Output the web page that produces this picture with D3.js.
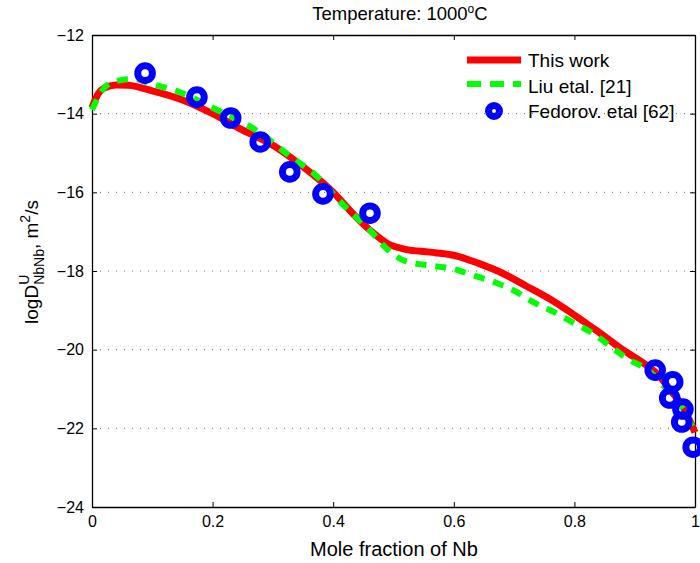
<!DOCTYPE html>
<html>
<head>
<meta charset="utf-8">
<script src="https://cdn.jsdelivr.net/npm/d3@7"></script>
<style>
  body { margin: 0; background: #fff; }
  svg { font-family: "Liberation Sans", Arial, Helvetica, sans-serif; }
</style>
</head>
<body>
<svg id="chart" width="700" height="563"></svg>
<script>
'use strict';

// data
var thisWork = [[0,-13.85],[0.01,-13.5],[0.02,-13.35],[0.04,-13.27],[0.06,-13.28],[0.1,-13.42],
  [0.15,-13.65],[0.2,-14.0],[0.25,-14.42],[0.3,-14.8],[0.35,-15.35],[0.4,-16.0],[0.43,-16.5],
  [0.46,-16.95],[0.49,-17.3],[0.52,-17.45],[0.56,-17.52],[0.6,-17.6],[0.64,-17.8],[0.68,-18.05],
  [0.72,-18.38],[0.76,-18.72],[0.8,-19.12],[0.84,-19.55],[0.88,-20.0],[0.92,-20.4],[0.94,-20.65],
  [0.96,-21.05],[0.98,-21.45],[1.0,-22.1]];

var liu = [[0,-13.9],[0.02,-13.35],[0.04,-13.17],[0.07,-13.12],[0.1,-13.25],[0.14,-13.42],
  [0.2,-13.85],[0.27,-14.4],[0.33,-15.1],[0.37,-15.55],[0.42,-16.37],[0.46,-16.95],[0.49,-17.45],
  [0.52,-17.75],[0.56,-17.86],[0.6,-17.95],[0.63,-18.1],[0.67,-18.3],[0.7,-18.5],[0.73,-18.78],
  [0.77,-19.07],[0.8,-19.33],[0.83,-19.58],[0.86,-19.92],[0.89,-20.25],[0.92,-20.5],[0.95,-20.95],
  [0.98,-21.5],[1.0,-22.1]];

var fedorov = [[0.088,-12.97],[0.174,-13.58],[0.23,-14.11],[0.279,-14.72],[0.328,-15.48],
  [0.383,-16.04],[0.461,-16.53],[0.934,-20.52],[0.963,-20.82],[0.958,-21.23],[0.98,-21.51],
  [0.978,-21.84],[0.997,-22.48]];

var xTicks = [0, 0.2, 0.4, 0.6, 0.8, 1];
var yTicks = [-24, -22, -20, -18, -16, -14, -12];
var legendNames = ['This work', 'Liu etal. [21]', 'Fedorov. etal [62]'];

var margin = {top: 35, right: 5, bottom: 56, left: 92},
    width = 700 - margin.left - margin.right,
    height = 563 - margin.top - margin.bottom;

var svg = d3.select('#chart');
var g = svg.append('g').attr('transform', 'translate(' + margin.left + ',' + margin.top + ')');

var x = d3.scaleLinear().domain([0, 1]).range([0, width]);
var y = d3.scaleLinear().domain([-24, -12]).range([height, 0]);

var fmt = function(d) { return String(d).replace('-', '\u2212'); };

// dotted horizontal grid
g.append('g').selectAll('line')
  .data(yTicks.filter(function(d) { return d > -24 && d < -12; }))
  .enter().append('line')
  .attr('x1', 0).attr('x2', width)
  .attr('y1', y).attr('y2', y)
  .attr('stroke', '#666').attr('stroke-width', 1)
  .attr('stroke-dasharray', '1,7');

// axes, ticks inward like matlab
g.append('g').attr('transform', 'translate(0,' + height + ')')
  .call(d3.axisBottom(x).tickValues(xTicks).tickSizeInner(-5).tickSizeOuter(0).tickPadding(9).tickFormat(fmt));
g.append('g')
  .call(d3.axisTop(x).tickValues(xTicks).tickSizeInner(-5).tickSizeOuter(0).tickFormat(''));
g.append('g')
  .call(d3.axisLeft(y).tickValues(yTicks).tickSizeInner(-5).tickSizeOuter(0).tickPadding(8).tickFormat(fmt));
g.append('g').attr('transform', 'translate(' + width + ',0)')
  .call(d3.axisRight(y).tickValues(yTicks).tickSizeInner(-5).tickSizeOuter(0).tickFormat(''));

g.selectAll('.domain').attr('stroke', '#000').attr('stroke-width', 1.3);
g.selectAll('.tick line').attr('stroke', '#000');
g.selectAll('.tick text').attr('font-size', 16).attr('fill', '#000');

var line = d3.line().x(function(d) { return x(d[0]); }).y(function(d) { return y(d[1]); })
  .curve(d3.curveMonotoneX);

var plot = g.append('g');

plot.append('path').datum(thisWork)
  .attr('d', line).attr('fill', 'none')
  .attr('stroke', '#ff0000').attr('stroke-width', 7).attr('stroke-linejoin', 'round');

plot.append('path').datum(liu)
  .attr('d', line).attr('fill', 'none')
  .attr('stroke', '#00ff00').attr('stroke-width', 6)
  .attr('stroke-dasharray', '11,9');

plot.selectAll('circle').data(fedorov).enter().append('circle')
  .attr('cx', function(d) { return x(d[0]); })
  .attr('cy', function(d) { return y(d[1]); })
  .attr('r', 7.3).attr('fill', 'none')
  .attr('stroke', '#0000ff').attr('stroke-width', 7);

// legend (no box)
var lg = svg.append('g').attr('transform', 'translate(467,60)');
lg.append('line').attr('x1', 0).attr('x2', 54).attr('y1', 0).attr('y2', 0)
  .attr('stroke', '#ff0000').attr('stroke-width', 7);
lg.append('line').attr('x1', 0).attr('x2', 54).attr('y1', 24).attr('y2', 24)
  .attr('stroke', '#00ff00').attr('stroke-width', 6).attr('stroke-dasharray', '14,9');
lg.append('circle').attr('cx', 27).attr('cy', 51).attr('r', 5.5)
  .attr('fill', 'none').attr('stroke', '#0000ff').attr('stroke-width', 7);
lg.selectAll('text').data(legendNames).enter().append('text')
  .attr('x', 61).attr('y', function(d, i) { return i * 25.5 + 7; })
  .attr('font-size', 19).attr('fill', '#000')
  .text(function(d) { return d; });

// title
var title = svg.append('text').attr('x', 400).attr('y', 20)
  .attr('text-anchor', 'middle').attr('font-size', 18.5);
title.append('tspan').text('Temperature: 1000');
title.append('tspan').attr('dy', -7).attr('font-size', 12).text('o');
title.append('tspan').attr('dy', 7).text('C');

// x label
svg.append('text').attr('x', 394).attr('y', 556)
  .attr('text-anchor', 'middle').attr('font-size', 20).text('Mole fraction of Nb');

// y label with super/subscripts
var yl = svg.append('text').attr('transform', 'translate(38,262) rotate(-90)')
  .attr('text-anchor', 'middle').attr('font-size', 19);
yl.append('tspan').text('logD');
var sup = yl.append('tspan').attr('dy', -9).attr('font-size', 14).text('U');
var uw = sup.node().getComputedTextLength();
yl.append('tspan').attr('dy', 15).attr('dx', -uw).attr('font-size', 14).text('NbNb');
yl.append('tspan').attr('dy', -6).text(', m');
yl.append('tspan').attr('dy', -8).attr('font-size', 14).text('2');
yl.append('tspan').attr('dy', 8).text('/s');
</script>
</body>
</html>
